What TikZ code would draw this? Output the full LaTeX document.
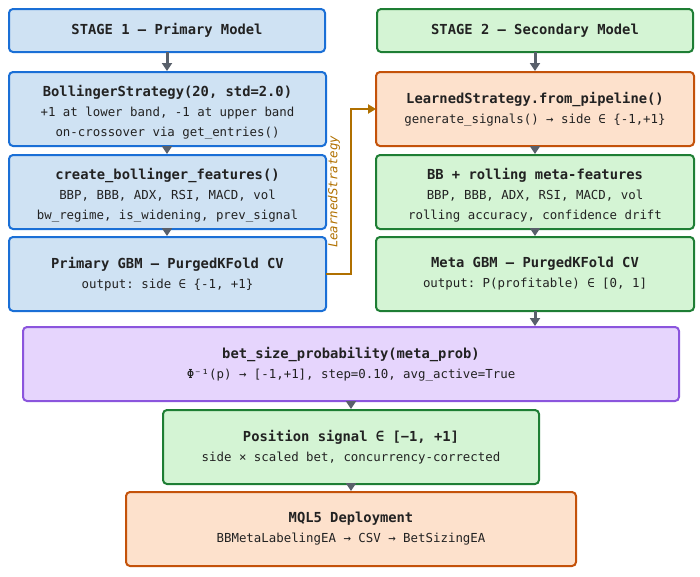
\documentclass[tikz,border=0pt]{standalone}
\usepackage{fontspec}
\setmonofont{DejaVu Sans Mono}
\usetikzlibrary{arrows.meta}
\definecolor{bluebd}{HTML}{1A6FD6}
\definecolor{bluefl}{HTML}{CFE2F3}
\definecolor{greenbd}{HTML}{1E7E34}
\definecolor{greenfl}{HTML}{D4F4D4}
\definecolor{orangebd}{HTML}{C4520A}
\definecolor{orangefl}{HTML}{FDE1CC}
\definecolor{purplebd}{HTML}{8B55DD}
\definecolor{purplefl}{HTML}{E6D5FD}
\definecolor{txt}{HTML}{222222}
\definecolor{arrowgray}{HTML}{59606B}
\definecolor{gold}{HTML}{B07000}
\newcommand\subf{\ttfamily\fontsize{12.4}{20}\selectfont}
\newcommand\titf{\ttfamily\bfseries\fontsize{13.8}{20}\selectfont}
\begin{document}
\begin{tikzpicture}[x=1pt,y=-1pt,
  box/.style={draw, line width=2pt, rounded corners=4pt, minimum height=74pt,
    align=center, inner sep=0pt, outer sep=0pt, font=\subf, text=txt},
  bluebox/.style={box, draw=bluebd, fill=bluefl},
  greenbox/.style={box, draw=greenbd, fill=greenfl},
  orangebox/.style={box, draw=orangebd, fill=orangefl},
  purplebox/.style={box, draw=purplebd, fill=purplefl},
  boxtext/.style={align=center, inner sep=0pt, font=\subf, text=txt},
  flow/.style={draw=arrowgray, line width=3pt, shorten >=1pt, -{Triangle[width=10pt,length=8pt]}},
  link/.style={draw=gold, line width=2pt, -{Triangle[width=9pt,length=8pt]}}
]
\useasboundingbox (0,0) rectangle (700,576);

\node[bluebox, minimum width=316pt, minimum height=43pt] (s1) at (167,30.5) {\titf STAGE 1 — Primary Model};
\node[greenbox, minimum width=316pt, minimum height=43pt] (s2) at (535,30.5) {\titf STAGE 2 — Secondary Model};

\node[bluebox, minimum width=317pt] (boll) at (167.5,109) {};
\node[boxtext] (bolltxt) at ([yshift=-3pt]boll.center)
  {{\titf BollingerStrategy(20, std=2.0)}\\+1 at lower band, -1 at upper band\\on-crossover via get\_entries()};
\node[bluebox, minimum width=317pt] (feat) at (167.5,192) {};
\node[boxtext] (feattxt) at ([yshift=-3pt]feat.center)
  {{\titf create\_bollinger\_features()}\\BBP, BBB, ADX, RSI, MACD, vol\\bw\_regime, is\_widening, prev\_signal};
\node[bluebox, minimum width=317pt] (prim) at (167.5,274)
  {{\titf Primary GBM — PurgedKFold CV}\\output: side ∈ \{-1, +1\}};

\node[orangebox, minimum width=318pt] (ls) at (535,109)
  {{\titf LearnedStrategy.from\_pipeline()}\\generate\_signals() → side ∈ \{-1,+1\}};
\node[greenbox, minimum width=318pt] (bb) at (535,192) {};
\node[boxtext] (bbtxt) at ([yshift=-3pt]bb.center)
  {{\titf BB + rolling meta-features}\\BBP, BBB, ADX, RSI, MACD, vol\\rolling accuracy, confidence drift};
\node[greenbox, minimum width=318pt] (meta) at (535,274)
  {{\titf Meta GBM — PurgedKFold CV}\\output: P(profitable) ∈ [0, 1]};

\node[purplebox, minimum width=656pt] (bet) at (351,364)
  {{\titf bet\_size\_probability(meta\_prob)}\\Φ⁻¹(p) → [-1,+1], step=0.10, avg\_active=True};
\node[greenbox, minimum width=376pt] (pos) at (351,447)
  {{\titf Position signal ∈ [−1, +1]}\\side × scaled bet, concurrency-corrected};
\node[orangebox, minimum width=450pt] (mql) at (351,529)
  {{\titf MQL5 Deployment}\\BBMetaLabelingEA → CSV → BetSizingEA};

\draw[flow] (s1.south -| 167,0) -- (boll.north -| 167,0);
\draw[flow] (boll.south -| 167,0) -- (feat.north -| 167,0);
\draw[flow] (feat.south -| 167,0) -- (prim.north -| 167,0);
\draw[flow] (s2.south) -- (ls.north);
\draw[flow] (ls.south) -- (bb.north);
\draw[flow] (bb.south) -- (meta.north);
\draw[flow] (meta.south) -- (meta.south |- bet.north);
\draw[flow] (bet.south) -- (pos.north);
\draw[flow] (pos.south) -- (mql.north);

\coordinate (bend) at (351,274);
\draw[link] (prim.east) -- (bend) |- (ls.west);
\node[rotate=90, text=gold, font=\ttfamily\itshape\fontsize{12.4}{14}\selectfont] (lslabel) at (334,192) {LearnedStrategy};
\end{tikzpicture}
\end{document}
